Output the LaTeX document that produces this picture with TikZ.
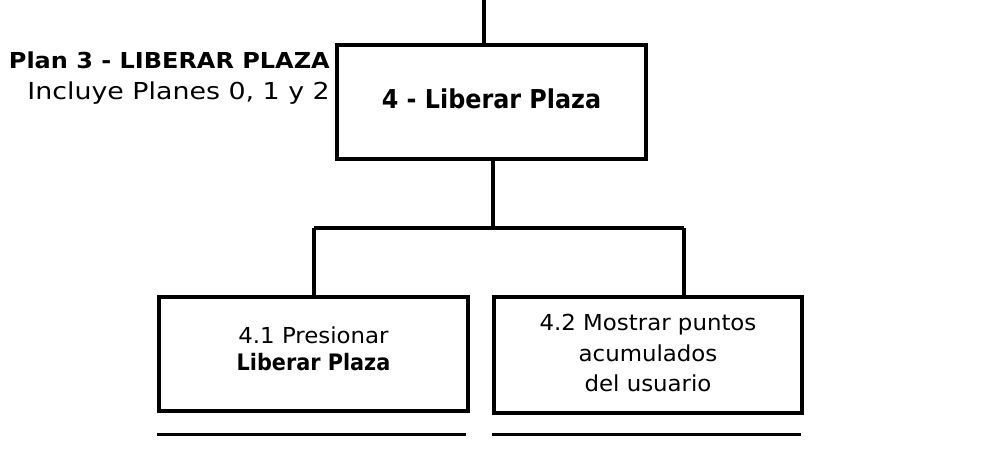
\documentclass[tikz,border=0pt]{standalone}
\usepackage{fontspec}
\setmainfont{DejaVu Sans}
\newfontfamily\boxfont[FakeStretch=1.04]{DejaVu Sans}
\newfontfamily\boxbold[FakeStretch=1.02]{DejaVu Sans Condensed Bold}
\newfontfamily\wideboldfont[FakeStretch=1.09]{DejaVu Sans Bold}
\newfontfamily\widefont[FakeStretch=1.15]{DejaVu Sans}
\begin{document}
\begin{tikzpicture}[x=0.75pt,y=-0.75pt,
  box/.style={draw,line width=2.4pt,inner sep=0pt,font=\boxfont\fontsize{16.5}{23}\selectfont,align=center},
  conn/.style={line width=2.4pt},
  lbl/.style={inner sep=0pt,anchor=base east}]
\useasboundingbox (0,0) rectangle (1004,465);
\node[box,minimum width=309*0.75pt,minimum height=114*0.75pt,font=\boxbold\fontsize{19.5}{24}\selectfont,text depth=5.8pt] (main) at (491.5,102) {4 - Liberar Plaza};
\node[box,minimum width=309*0.75pt,minimum height=114*0.75pt,text depth=8.5pt] (b1) at (313.5,354) {4.1 Presionar\\[-3pt]{\boxbold\fontsize{17}{23}\selectfont Liberar Plaza}};
\node[box,minimum width=308*0.75pt,minimum height=116*0.75pt,text depth=3pt] (b2) at (648,355) {4.2 Mostrar puntos\\acumulados\\del usuario};
\coordinate (top) at (484,0);
\coordinate (split) at (493,228);
\draw[conn] (top) -- (top |- main.north);
\draw[conn] (main.south -| split) -- (split);
\draw[conn] (314,228) -- (684,228);
\draw[conn] (314,228) -- (314,297);
\draw[conn] (684,228) -- (684,297);
\node[lbl,font=\wideboldfont\fontsize{16.5}{20}\selectfont] (t1) at (330,68) {Plan 3 - LIBERAR PLAZA};
\node[lbl,font=\widefont\fontsize{17.5}{20}\selectfont] (t2) at (330,99) {Incluye Planes 0, 1 y 2};
\draw[conn] (b1.south west) ++(0,22) -- ++(309,0);
\draw[conn] (b2.south west) ++(0,20) -- ++(309,0);
\end{tikzpicture}
\end{document}
